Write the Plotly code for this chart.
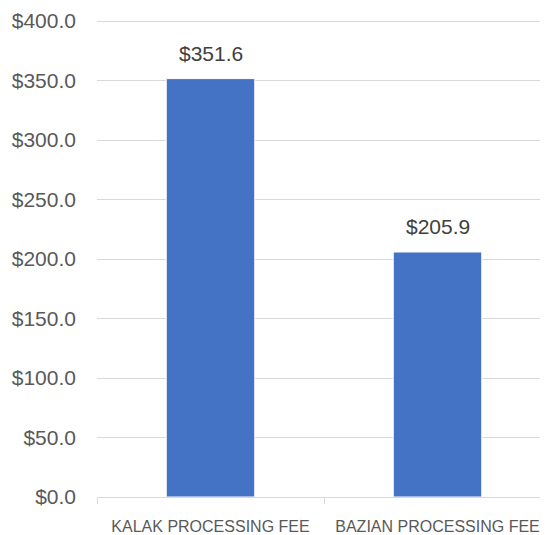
import plotly.graph_objects as go

categories = ["KALAK PROCESSING FEE", "BAZIAN PROCESSING FEE"]
values = [351.6, 205.9]
y_ticks = [0, 50, 100, 150, 200, 250, 300, 350, 400]
y_tick_labels = ["$%.1f" % v for v in y_ticks]

BAR_COLOR = "#4472C4"
GRID = "#D9D9D9"
FONT = "Liberation Sans"

fig = go.Figure()
fig.add_trace(go.Bar(
    x=categories, y=values,
    width=0.39,
    marker=dict(color=BAR_COLOR, line=dict(color="white", width=1)),
    hoverinfo="skip",
))

for c, v in zip(categories, values):
    fig.add_annotation(
        x=c, y=v, text="$%.1f" % v, showarrow=False,
        yanchor="bottom", yshift=12,
        font=dict(family=FONT, size=21, color="#404040"),
    )

# page body has an 8px default margin; compensate
OFF = 8
W, H = 548 - OFF, 535 - OFF
L, R, T, B = 97 - OFF, 0, 9, 38
plot_w = W - L - R
plot_h = H - T - B
cat_px = 227.0
px_per_unit = 476.0 / 400.0

fig.update_layout(
    width=W, height=H,
    margin=dict(l=L, r=R, t=T, b=B, pad=0),
    paper_bgcolor="white", plot_bgcolor="white",
    showlegend=False,
    font=dict(family=FONT, color="#595959"),
    xaxis=dict(
        type="category", automargin=False,
        range=[-0.5, -0.5 + plot_w / cat_px],
        showgrid=False, zeroline=False,
        showline=True, linecolor=GRID, linewidth=1,
        ticks="outside", tickson="boundaries", ticklen=6, tickcolor=GRID, tickwidth=1,
        tickfont=dict(family=FONT, size=16, color="#595959"),
        ticklabelstandoff=15,
    ),
    yaxis=dict(
        automargin=False,
        range=[0, plot_h / px_per_unit],
        tickvals=y_ticks, ticktext=y_tick_labels,
        showgrid=True, gridcolor=GRID, gridwidth=1,
        zeroline=False, showline=False, ticks="",
        tickfont=dict(family=FONT, size=21, color="#595959"),
        ticklabelstandoff=20,
    ),
)

fig.write_html("out.html")
